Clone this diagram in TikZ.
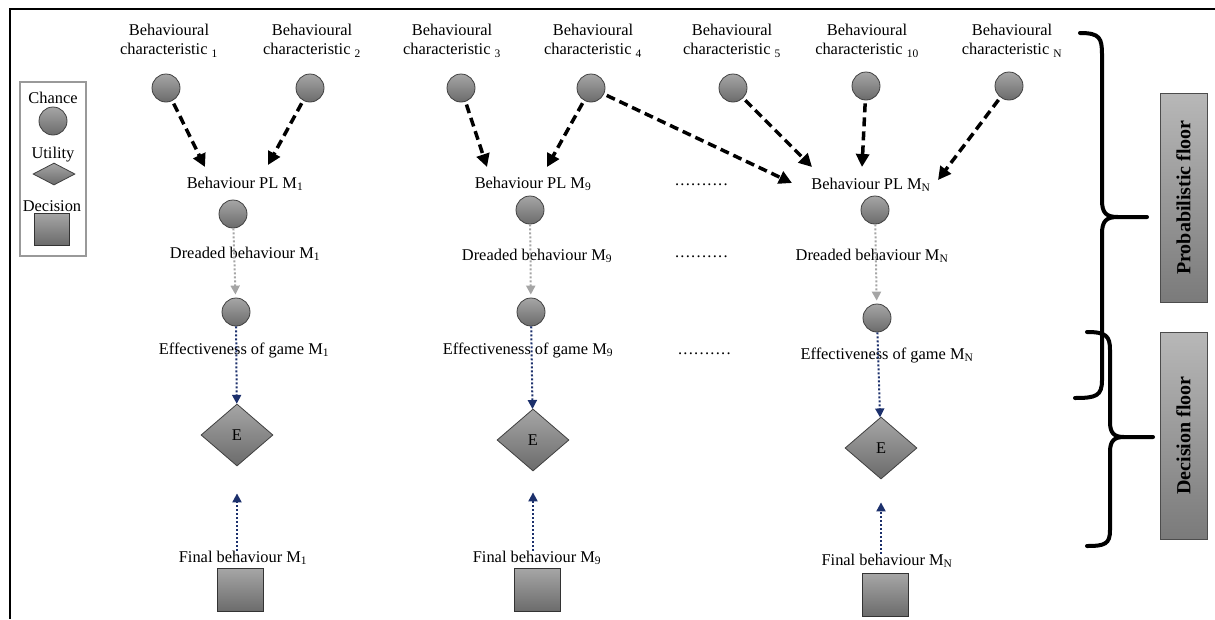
\documentclass[tikz,border=0pt]{standalone}
\usepackage{fontspec}
\setmainfont{Liberation Serif}
\usetikzlibrary{shapes.geometric,arrows.meta}
\definecolor{azulflecha}{RGB}{28,48,108}
\definecolor{grisflecha}{RGB}{165,165,165}
\newcommand{\puntos}{\foreach \k in {1,...,10}{.\kern1.3pt}}
\tikzset{
  azar/.style={circle,draw=black!75,top color=black!35,bottom color=black!58,minimum size=28pt,inner sep=0pt,line width=0.8pt},
  utilidad/.style={diamond,draw=black!75,top color=black!35,bottom color=black!58,minimum width=72pt,minimum height=62pt,inner sep=0pt,line width=0.8pt},
  decide/.style={rectangle,draw=black!80,top color=black!35,bottom color=black!58,minimum width=46pt,minimum height=43pt,inner sep=0pt,line width=0.8pt},
  etiqueta/.style={inner sep=0pt,font=\fontsize{16.4}{19}\selectfont},
  influye/.style={-{Triangle[length=13pt,width=13pt]},line width=3.5pt,dash pattern=on 9pt off 5pt,shorten <=3pt},
  propaga/.style={-{Triangle[length=9pt,width=9pt]},grisflecha,line width=2pt,dotted,shorten >=3pt},
  evalua/.style={-{Triangle[length=9pt,width=9pt]},azulflecha,line width=2pt,dotted},
  llave/.style={line width=4pt,line cap=round},
  piso/.style={draw=black!70,top color=black!28,bottom color=black!52,minimum height=47pt,inner sep=0pt,line width=1pt,font=\fontsize{20}{24}\selectfont\bfseries},
}
\begin{document}
\begin{tikzpicture}[x=1pt,y=-1pt]
    \useasboundingbox (0,0) rectangle (1215,619);

    % Marco de la figura
    \draw[line width=1.5pt] (1215,9) -- (10,9) -- (10,619);

    % Leyenda
    \draw[black!40, line width=2pt] (20,82) rectangle (86,256);
    \node[etiqueta] (lc) at (53,98) {Chance};
    \node[azar] (lca) at (53,121) {};
    \node[etiqueta] (lu) at (53,155) {Utility};
    \node[utilidad, minimum width=42pt, minimum height=22pt] (lut) at (54,174) {};
    \node[etiqueta] (ld) at (52,206) {Decision};
    \node[decide, minimum width=35pt, minimum height=32pt] (lde) at (52,229) {};

    % Caracteristicas de comportamiento
    \node[etiqueta, align=center] (l1) at (169,41) {Behavioural\\characteristic \textsubscript{1}};
    \node[etiqueta, align=center] (l2) at (312,41) {Behavioural\\characteristic \textsubscript{2}};
    \node[etiqueta, align=center] (l3) at (452,41) {Behavioural\\characteristic \textsubscript{3}};
    \node[etiqueta, align=center] (l4) at (593,41) {Behavioural\\characteristic \textsubscript{4}};
    \node[etiqueta, align=center] (l5) at (732,41) {Behavioural\\characteristic \textsubscript{5}};
    \node[etiqueta, align=center] (l10) at (867,41) {Behavioural\\characteristic \textsubscript{10}};
    \node[etiqueta, align=center] (lN) at (1012,41) {Behavioural\\characteristic \textsubscript{N}};
    \node[azar] (c1) at (166,88) {};
    \node[azar] (c2) at (310,88) {};
    \node[azar] (c3) at (461,88) {};
    \node[azar] (c4) at (591,88) {};
    \node[azar] (c5) at (733,88) {};
    \node[azar] (c10) at (866,86) {};
    \node[azar] (cN) at (1009,86) {};

    % Puntas de las flechas discontinuas
    \coordinate (t1) at (205,167);
    \coordinate (t2) at (268,165);
    \coordinate (t3) at (487,167);
    \coordinate (t4a) at (547,167);
    \coordinate (t4b) at (792,183);
    \coordinate (t5) at (812,167);
    \coordinate (t10) at (862,167);
    \coordinate (tN) at (938,180);

    % Columna M1
    \node[etiqueta] (bp1) at (245,184) {Behaviour PL M\textsubscript{1}};
    \node[azar] (p1) at (233,214) {};
    \node[etiqueta] (dr1) at (245,254) {Dreaded behaviour M\textsubscript{1}};
    \node[azar] (e1) at (236,312) {};
    \node[etiqueta] (ef1) at (244,350) {Effectiveness of game M\textsubscript{1}};
    \node[utilidad, etiqueta] (u1) at (237,435) {E};
    \node[etiqueta] (fb1) at (243,558) {Final behaviour M\textsubscript{1}};
    \node[decide] (d1) at (240,590) {};

    % Columna M9
    \node[etiqueta] (bp9) at (533,184) {Behaviour PL M\textsubscript{9}};
    \node[azar] (p9) at (530,210) {};
    \node[etiqueta] (dr9) at (537,256) {Dreaded behaviour M\textsubscript{9}};
    \node[azar] (e9) at (531,312) {};
    \node[etiqueta] (ef9) at (528,350) {Effectiveness of game M\textsubscript{9}};
    \node[utilidad, etiqueta] (u9) at (533,440) {E};
    \node[etiqueta] (fb9) at (537,558) {Final behaviour M\textsubscript{9}};
    \node[decide] (d9) at (537,590) {};

    % Columna MN
    \node[etiqueta] (bpN) at (871,185) {Behaviour PL M\textsubscript{N}};
    \node[azar] (pN) at (875,210) {};
    \node[etiqueta] (drN) at (872,256) {Dreaded behaviour M\textsubscript{N}};
    \node[azar] (eN) at (877,318) {};
    \node[etiqueta] (efN) at (887,355) {Effectiveness of game M\textsubscript{N}};
    \node[utilidad, etiqueta] (uN) at (881,448) {E};
    \node[etiqueta] (fbN) at (887,561) {Final behaviour M\textsubscript{N}};
    \node[decide] (dN) at (885,595) {};

    % Puntos suspensivos
    \node[etiqueta] (s1) at (702,185) {\puntos};
    \node[etiqueta] (s2) at (702,257) {\puntos};
    \node[etiqueta] (s3) at (705,354) {\puntos};

    % Flechas discontinuas
    \draw[influye] (c1) -- (t1);
    \draw[influye] (c2) -- (t2);
    \draw[influye] (c3) -- (t3);
    \draw[influye] (c4) -- (t4a);
    \draw[influye] (c4) -- (t4b);
    \draw[influye] (c5) -- (t5);
    \draw[influye] (c10) -- (t10);
    \draw[influye] (cN) -- (tN);

    % Flechas punteadas
    \draw[propaga] (p1) -- (e1);
    \draw[propaga] (p9) -- (e9);
    \draw[propaga] (pN) -- (eN);
    \draw[evalua] (e1) -- (u1);
    \draw[evalua] (e9) -- (u9);
    \draw[evalua] (eN) -- (uN);
    \draw[evalua, shorten >=27pt] (u1 |- fb1.north) -- (u1.south);
    \draw[evalua, shorten >=21pt] (u9 |- fb9.north) -- (u9.south);
    \draw[evalua, shorten >=23pt] (uN |- fbN.north) -- (uN.south);

    % Llaves de los pisos
    \draw[llave] (1080,33) .. controls (1100,33) and (1102,38) .. (1102,55) -- (1102,200) .. controls (1102,213) and (1106,217) .. (1118,217) -- (1147,217);
    \draw[llave] (1118,217) .. controls (1106,217) and (1102,221) .. (1102,234) -- (1102,380) .. controls (1102,396) and (1096,398) .. (1075,398);
    \draw[llave] (1087,332) .. controls (1106,332) and (1110,336) .. (1110,350) -- (1110,422) .. controls (1110,433) and (1114,437) .. (1124,437) -- (1153,437);
    \draw[llave] (1124,437) .. controls (1114,437) and (1110,441) .. (1110,452) -- (1110,530) .. controls (1110,544) and (1105,546) .. (1087,546);

    % Pisos
    \node[piso, rotate=90, minimum width=209pt] (pp) at (1183.5,197.5) {Probabilistic floor};
    \node[piso, rotate=90, minimum width=207pt] (pd) at (1183.5,435.5) {Decision floor};
\end{tikzpicture}
\end{document}
